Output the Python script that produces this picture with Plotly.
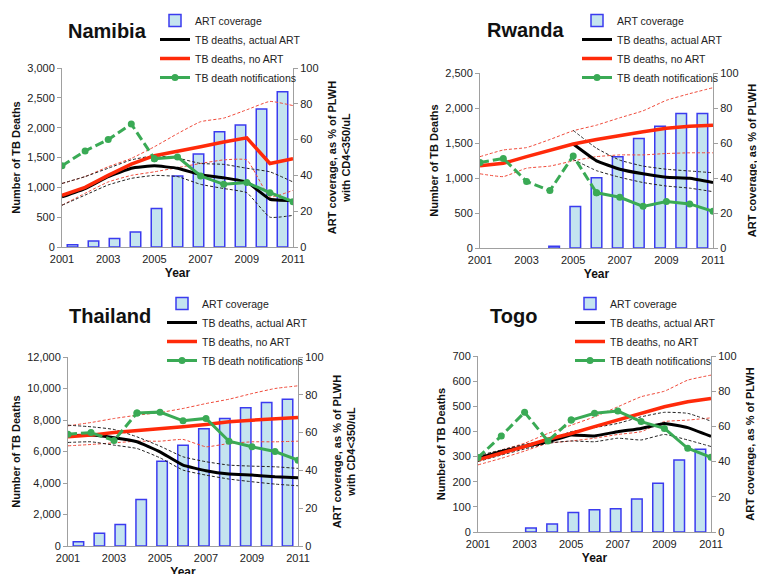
import plotly.graph_objects as go

years = [2001, 2002, 2003, 2004, 2005, 2006, 2007, 2008, 2009, 2010, 2011]
year_labels = [str(y) for y in years]
x_ticks = [2001, 2003, 2005, 2007, 2009, 2011]

countries = ["Namibia", "Rwanda", "Thailand", "Togo"]

# ART coverage (% of PLWH with CD4<350/uL), right axis
nam_art = [1.3, 3.4, 4.7, 8.4, 21.5, 39.6, 52.0, 64.4, 68.2, 77.1, 86.8]
rwa_art = [None, None, None, 1.0, 23.7, 40.2, 52.2, 62.6, 69.6, 76.9, 76.9]
tha_art = [2.3, 6.7, 11.4, 24.6, 44.9, 53.3, 62.1, 67.4, 73.1, 75.9, 77.6]
tgo_art = [None, None, 2.3, 4.5, 11.1, 12.6, 13.2, 18.7, 27.7, 40.9, 47.0]

# TB deaths, no ART (central, upper, lower)
nam_noart = [865, 1000, 1200, 1390, 1530, 1600, 1680, 1760, 1830, 1400, 1480]
nam_noart_hi = [1065, 1180, 1345, 1485, 1680, 1900, 2100, 2160, 2300, 2440, 2370]
nam_noart_lo = [700, 900, 1090, 1200, 1260, 1330, 1400, 1460, 1460, 840, 950]
rwa_noart = [1175, 1210, 1305, 1400, 1485, 1550, 1610, 1660, 1710, 1740, 1755]
rwa_noart_hi = [1305, 1400, 1435, 1550, 1675, 1755, 1860, 1960, 2110, 2205, 2290]
rwa_noart_lo = [1060, 1020, 1140, 1170, 1245, 1305, 1330, 1330, 1350, 1360, 1360]
tha_noart = [6930, 7040, 7210, 7315, 7420, 7570, 7720, 7885, 7990, 8095, 8160]
tha_noart_hi = [7630, 7840, 8095, 8305, 8475, 8730, 9045, 9320, 9680, 10000, 10170]
tha_noart_lo = [6360, 6445, 6550, 6655, 6655, 6765, 6300, 6510, 6615, 6615, 6655]
tgo_noart = [287, 313, 340, 369, 392, 419, 445, 472, 498, 518, 531]
tgo_noart_hi = [300, 326, 353, 392, 425, 458, 498, 538, 560, 604, 624]
tgo_noart_lo = [267, 293, 322, 353, 362, 373, 388, 399, 439, 445, 454]

# TB deaths, actual ART (central, upper, lower)
nam_act = [840, 980, 1180, 1320, 1360, 1320, 1210, 1160, 1090, 800, 780]
nam_act_hi = [1065, 1180, 1320, 1460, 1530, 1490, 1400, 1385, 1320, 1260, 1090]
nam_act_lo = [700, 870, 1040, 1150, 1200, 1180, 1050, 980, 910, 500, 530]
rwa_act = [None, None, None, None, 1485, 1245, 1125, 1060, 1010, 995, 935]
rwa_act_hi = [None, None, None, None, 1680, 1425, 1255, 1170, 1125, 1100, 1075]
rwa_act_lo = [None, None, None, None, 1265, 1105, 1010, 935, 885, 855, 805]
tha_act = [7000, 7040, 6870, 6615, 5980, 5135, 4775, 4565, 4500, 4395, 4330]
tha_act_hi = [7670, 7570, 7400, 6930, 6340, 5665, 5350, 5135, 5070, 5030, 4925]
tha_act_lo = [6575, 6615, 6405, 6190, 5600, 4820, 4500, 4250, 4080, 3930, 3825]
tgo_act = [293, 320, 340, 359, 386, 382, 399, 412, 432, 415, 380]
tgo_act_hi = [304, 326, 349, 366, 399, 415, 432, 458, 476, 472, 441]
tgo_act_lo = [280, 306, 330, 353, 362, 359, 373, 366, 388, 366, 340]

# TB death notifications
nam_notif = [1360, 1610, 1800, 2060, 1480, 1510, 1190, 1050, 1080, 910, 760]
rwa_notif = [1220, 1280, 950, 820, 1315, 790, 725, 595, 665, 630, 525]
tha_notif = [7100, 7200, 6700, 8450, 8500, 7950, 8100, 6650, 6300, 6000, 5450]
tgo_notif = [296, 382, 476, 362, 445, 472, 481, 439, 412, 333, 297]
# index of the year from which the notification line is solid (dashed before)
notif_solid_from = [4, 5, 3, 4]

# left-axis ranges and tick steps
left_max = [3000, 2500, 12000, 700]
left_dtick = [500, 500, 2000, 100]

art = [nam_art, rwa_art, tha_art, tgo_art]
noart = [nam_noart, rwa_noart, tha_noart, tgo_noart]
noart_hi = [nam_noart_hi, rwa_noart_hi, tha_noart_hi, tgo_noart_hi]
noart_lo = [nam_noart_lo, rwa_noart_lo, tha_noart_lo, tgo_noart_lo]
act = [nam_act, rwa_act, tha_act, tgo_act]
act_hi = [nam_act_hi, rwa_act_hi, tha_act_hi, tgo_act_hi]
act_lo = [nam_act_lo, rwa_act_lo, tha_act_lo, tgo_act_lo]
notif = [nam_notif, rwa_notif, tha_notif, tgo_notif]

W, H = 765, 574
OFF = 8  # page body margin in the browser
# plot boxes in screen pixels: left, right, top, bottom
boxes = [(62, 293, 68, 247), (480, 713, 73, 248), (68, 298, 357, 546), (478, 711, 356, 532)]
title_pos = [(107, 31), (526, 30), (110, 316), (513, 316)]
legend_pos = [(155, 6), (577, 6), (162, 289), (570, 289)]


def fx(px):
    return (px - OFF) / W


def fy(py):
    return 1 - (py - OFF) / H


FONT = "Liberation Sans, Arial, sans-serif"
RED = "#ff2a0a"
RED_D = "#f04a3a"
BLACK = "#000000"
GREEN = "#3aaa55"
AXC = "#a0a0a0"

fig = go.Figure()
layout = dict(
    width=W, height=H, margin=dict(l=0, r=0, t=0, b=0, pad=0, autoexpand=False),
    paper_bgcolor="white", plot_bgcolor="white",
    font=dict(family=FONT, size=11, color="#111"),
    annotations=[], showlegend=True,
)

for k, name in enumerate(countries):
    l, r, t, b = boxes[k]
    xd = [fx(l), fx(r)]
    yd = [fy(b), fy(t)]
    xm, xo = f"x{2*k+1}", f"x{2*k+2}"
    ym, yo = f"y{2*k+1}", f"y{2*k+2}"
    xmk, xok = f"xaxis{2*k+1}", f"xaxis{2*k+2}"
    ymk, yok = f"yaxis{2*k+1}", f"yaxis{2*k+2}"
    leg = "legend" if k == 0 else f"legend{k+1}"

    # main subplot: bars on a category axis, right % axis
    layout[xmk] = dict(domain=xd, type="category", range=[-0.5, 10.5],
                       categoryorder="array", categoryarray=year_labels,
                       visible=False, anchor=ym, automargin=False)
    layout[ymk] = dict(domain=yd, side="right", range=[0, 100], dtick=20,
                       anchor=xm, showline=True, linecolor=AXC, linewidth=1,
                       ticks="outside", ticklen=4, tickcolor=AXC,
                       showgrid=False, zeroline=False, automargin=False,
                       tickfont=dict(size=11, color="#222"),
                       title=dict(text="<b>ART coverage, as % of PLWH<br>with CD4&lt;350/uL</b>",
                                  font=dict(size=11, color="#111"), standoff=10))
    # overlay: year axis and left deaths axis
    layout[xok] = dict(overlaying=xm, anchor=yo, range=[2001, 2011],
                       tickvals=x_ticks, showline=True, linecolor=AXC, linewidth=1,
                       ticks="", showgrid=False, zeroline=False, automargin=True,
                       ticklabelstandoff=2,
                       tickfont=dict(size=11, color="#222"),
                       title=dict(text="<b>Year</b>", font=dict(size=12, color="#111"), standoff=4))
    layout[yok] = dict(overlaying=ym, anchor=xo, side="left",
                       range=[0, left_max[k]], dtick=left_dtick[k], tickformat=",d",
                       showline=True, linecolor=AXC, linewidth=1,
                       ticks="outside", ticklen=4, tickcolor=AXC,
                       showgrid=False, zeroline=False, automargin=True,
                       tickfont=dict(size=11, color="#222"),
                       title=dict(text="<b>Number of TB Deaths</b>",
                                  font=dict(size=11, color="#111"), standoff=4))

    lx, ly = legend_pos[k]
    layout[leg] = dict(x=fx(lx), y=fy(ly), xanchor="left", yanchor="top",
                       bgcolor="rgba(0,0,0,0)", borderwidth=0,
                       font=dict(size=10.5, color="#222"), tracegroupgap=0,
                       traceorder="normal")

    tx, ty = title_pos[k]
    layout["annotations"].append(dict(
        x=fx(tx), y=fy(ty), xref="paper", yref="paper", text=f"<b>{name}</b>",
        showarrow=False, font=dict(size=20, color="#111", family=FONT),
        xanchor="center", yanchor="middle"))

    fig.add_trace(go.Bar(
        x=year_labels, y=art[k], xaxis=xm, yaxis=ym, width=0.5,
        marker=dict(color="#c4e4ef", line=dict(color="#3b3bef", width=1.5)),
        name="ART coverage", legend=leg, legendrank=1, hoverinfo="skip"))

    for series, col in [(noart_hi[k], RED_D), (noart_lo[k], RED_D),
                        (act_hi[k], "#222"), (act_lo[k], "#222")]:
        fig.add_trace(go.Scatter(
            x=years, y=series, xaxis=xo, yaxis=yo, mode="lines",
            line=dict(color=col, width=1, dash="3px,2px", shape="spline", smoothing=0.4),
            showlegend=False, legend=leg, hoverinfo="skip"))

    fig.add_trace(go.Scatter(
        x=years, y=act[k], xaxis=xo, yaxis=yo, mode="lines",
        line=dict(color=BLACK, width=3, shape="spline", smoothing=0.3),
        name="TB deaths, actual ART", legend=leg, legendrank=2))
    fig.add_trace(go.Scatter(
        x=years, y=noart[k], xaxis=xo, yaxis=yo, mode="lines",
        line=dict(color=RED, width=3.5),
        name="TB deaths, no ART", legend=leg, legendrank=3))

    s = notif_solid_from[k]
    fig.add_trace(go.Scatter(
        x=years[:s + 1], y=notif[k][:s + 1], xaxis=xo, yaxis=yo, mode="lines+markers",
        line=dict(color=GREEN, width=3, dash="9px,4px"),
        marker=dict(color=GREEN, size=7, symbol="circle"),
        showlegend=False, legend=leg, hoverinfo="skip"))
    fig.add_trace(go.Scatter(
        x=years[s:], y=notif[k][s:], xaxis=xo, yaxis=yo, mode="lines+markers",
        line=dict(color=GREEN, width=3),
        marker=dict(color=GREEN, size=7, symbol="circle"),
        name="TB death notifications", legend=leg, legendrank=4))

fig.update_layout(**layout)
fig.write_html("out.html")
